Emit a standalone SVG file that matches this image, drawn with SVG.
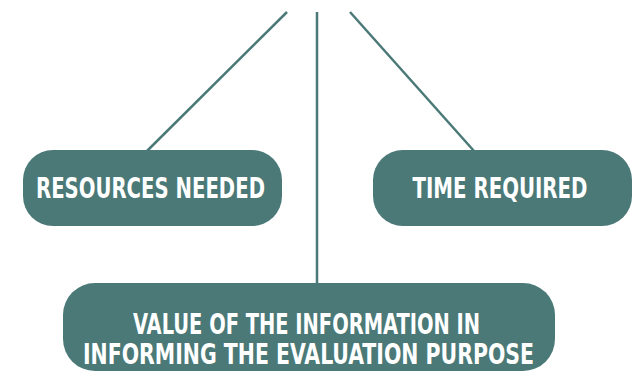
<svg xmlns="http://www.w3.org/2000/svg" width="637" height="372" viewBox="0 0 637 372">
<style>
.box{fill:#4a7977}
.lbl{fill:#ffffff;font-family:"DejaVu Sans Condensed","DejaVu Sans","Liberation Sans",sans-serif;font-weight:bold;font-size:29px;text-anchor:middle}
.conn{stroke:#4a7977;stroke-width:2.5;fill:none}
</style>
<rect width="637" height="372" fill="#ffffff"/>
<g id="connectors">
<line class="conn" x1="287" y1="12" x2="147" y2="151"/>
<line class="conn" x1="317" y1="12" x2="317" y2="284"/>
<line class="conn" x1="350" y1="12" x2="474" y2="151"/>
</g>
<g id="resources">
<rect class="box" x="23" y="150" width="259" height="76" rx="30"/>
<text class="lbl" x="150.5" y="198" textLength="229" lengthAdjust="spacingAndGlyphs">RESOURCES NEEDED</text>
</g>
<g id="time">
<rect class="box" x="373" y="150" width="259" height="76" rx="30"/>
<text class="lbl" x="500" y="198" textLength="175" lengthAdjust="spacingAndGlyphs">TIME REQUIRED</text>
</g>
<g id="value">
<rect class="box" x="63" y="283" width="492" height="88" rx="32"/>
<text class="lbl" x="306.5" y="334" textLength="347" lengthAdjust="spacingAndGlyphs">VALUE OF THE INFORMATION IN</text>
<text class="lbl" x="308.5" y="364" textLength="451" lengthAdjust="spacingAndGlyphs">INFORMING THE EVALUATION PURPOSE</text>
</g>
</svg>
